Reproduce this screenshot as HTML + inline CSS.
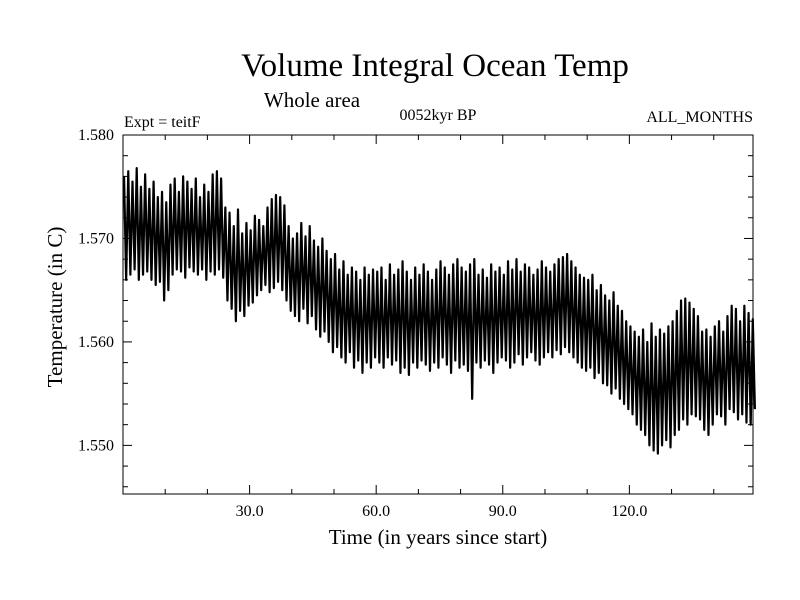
<!DOCTYPE html>
<html><head><meta charset="utf-8"><style>
html,body{margin:0;padding:0;background:#fff;}
svg{display:block;font-family:"Liberation Serif",serif;}
</style></head><body>
<svg id="chart" width="800" height="600" viewBox="0 0 800 600">
<rect width="800" height="600" fill="#fff"/>
<text x="435" y="76" font-size="33" text-anchor="middle">Volume Integral Ocean Temp</text>
<text x="312" y="107" font-size="21" text-anchor="middle">Whole area</text>
<text x="124" y="127" font-size="16">Expt = teitF</text>
<text x="438" y="120" font-size="16" text-anchor="middle">0052kyr BP</text>
<text x="753" y="122" font-size="16" text-anchor="end">ALL_MONTHS</text>
<text x="438" y="544" font-size="21" text-anchor="middle">Time (in years since start)</text>
<text transform="translate(62,307) rotate(-90)" font-size="21" text-anchor="middle">Temperature (in C)</text>
<g id="ticks"></g>
<g id="series"></g>
<rect x="123" y="135" width="630" height="359" fill="none" stroke="#000" stroke-width="1"/>
</svg>
<script>
const yearMax=[1.5760,1.5765,1.5755,1.5768,1.5750,1.5762,1.5748,1.5755,1.5740,1.5745,
1.5735,1.5752,1.5758,1.5745,1.5760,1.5755,1.5748,1.5758,1.5740,1.5752,
1.5745,1.5762,1.5765,1.5758,1.5730,1.5725,1.5712,1.5728,1.5705,1.5715,
1.5708,1.5722,1.5718,1.5712,1.5730,1.5738,1.5742,1.5740,1.5732,1.5712,
1.5700,1.5705,1.5715,1.5702,1.5712,1.5698,1.5692,1.5700,1.5688,1.5680,
1.5685,1.5670,1.5678,1.5665,1.5672,1.5668,1.5660,1.5672,1.5665,1.5670,
1.5668,1.5672,1.5660,1.5675,1.5665,1.5670,1.5678,1.5668,1.5660,1.5672,
1.5665,1.5675,1.5668,1.5660,1.5670,1.5678,1.5672,1.5665,1.5675,1.5680,
1.5672,1.5668,1.5675,1.5680,1.5665,1.5670,1.5662,1.5675,1.5668,1.5672,
1.5665,1.5678,1.5670,1.5680,1.5668,1.5675,1.5672,1.5665,1.5670,1.5678,
1.5672,1.5668,1.5675,1.5680,1.5682,1.5685,1.5678,1.5672,1.5665,1.5662,
1.5660,1.5665,1.5650,1.5655,1.5645,1.5640,1.5648,1.5635,1.5630,1.5620,
1.5615,1.5610,1.5605,1.5612,1.5600,1.5618,1.5605,1.5612,1.5608,1.5615,
1.5620,1.5630,1.5640,1.5642,1.5638,1.5632,1.5625,1.5610,1.5612,1.5605,
1.5615,1.5620,1.5610,1.5625,1.5635,1.5632,1.5620,1.5635,1.5628,1.5622];
const yearMin=[1.5660,1.5665,1.5670,1.5660,1.5665,1.5668,1.5660,1.5655,1.5658,1.5640,
1.5650,1.5665,1.5670,1.5668,1.5662,1.5672,1.5668,1.5665,1.5670,1.5660,
1.5668,1.5665,1.5670,1.5662,1.5640,1.5632,1.5620,1.5630,1.5625,1.5635,
1.5638,1.5645,1.5650,1.5655,1.5648,1.5652,1.5658,1.5650,1.5640,1.5630,
1.5625,1.5620,1.5632,1.5618,1.5625,1.5612,1.5605,1.5610,1.5600,1.5590,
1.5595,1.5585,1.5580,1.5590,1.5575,1.5582,1.5570,1.5580,1.5575,1.5585,
1.5580,1.5575,1.5585,1.5578,1.5582,1.5570,1.5575,1.5568,1.5580,1.5575,
1.5582,1.5578,1.5572,1.5580,1.5575,1.5585,1.5578,1.5570,1.5582,1.5575,
1.5578,1.5572,1.5545,1.5580,1.5575,1.5582,1.5578,1.5570,1.5580,1.5585,
1.5582,1.5575,1.5580,1.5588,1.5578,1.5585,1.5590,1.5582,1.5578,1.5585,
1.5590,1.5585,1.5592,1.5588,1.5595,1.5590,1.5585,1.5580,1.5575,1.5572,
1.5575,1.5565,1.5570,1.5560,1.5558,1.5550,1.5555,1.5545,1.5540,1.5535,
1.5530,1.5520,1.5515,1.5510,1.5500,1.5495,1.5492,1.5500,1.5505,1.5498,
1.5510,1.5515,1.5525,1.5520,1.5530,1.5528,1.5525,1.5515,1.5510,1.5520,
1.5530,1.5528,1.5520,1.5535,1.5532,1.5525,1.5530,1.5522,1.5520,1.5535];
const xTickLabels=["30.0","60.0","90.0","120.0"];
const xTickValues=[30,60,90,120];
const yTickLabels=["1.580","1.570","1.560","1.550"];
const yTickValues=[1.580,1.570,1.560,1.550];

const NS="http://www.w3.org/2000/svg";
const L=123,R=753,T=135,B=494;
const X0=0,X1=149.3,Y0=1.5453,Y1=1.580;
const sx=v=>L+(v-X0)/(X1-X0)*(R-L);
const sy=v=>B-(v-Y0)/(Y1-Y0)*(B-T);
function mk(tag,attrs,parent){const e=document.createElementNS(NS,tag);for(const k in attrs)e.setAttribute(k,attrs[k]);parent.appendChild(e);return e;}
const tg=document.getElementById('ticks');
for(let v=10;v<X1;v+=10){
  const major=v%30===0, len=major?9:5, x=sx(v);
  const t1=mk('line',{x1:x,x2:x,y1:B,y2:B-len,stroke:'#000'},tg);
  
  
  const t2=mk('line',{x1:x,x2:x,y1:T,y2:T+len,stroke:'#000'},tg);
  
  
}
xTickValues.forEach((v,i)=>{
  const t=mk('text',{x:sx(v),y:B+22,'font-size':16,'text-anchor':'middle'},tg);
  t.textContent=xTickLabels[i];
  
  
});
for(let k=0;k<=17;k++){
  const v=1.580-k*0.002; if(v<Y0)break;
  const major=k%5===0, len=major?9:5, y=sy(v);
  const t1=mk('line',{x1:L,x2:L+len,y1:y,y2:y,stroke:'#000'},tg);
  
  
  const t2=mk('line',{x1:R,x2:R-len,y1:y,y2:y,stroke:'#000'},tg);
  
  
}
yTickValues.forEach((v,i)=>{
  const t=mk('text',{x:L-9,y:sy(v)+5,'font-size':16,'text-anchor':'end'},tg);
  t.textContent=yTickLabels[i];
  
  
});
let pts=[];
for(let i=0;i<yearMax.length;i++){
  pts.push(sx(i+0.25).toFixed(2)+','+sy(yearMax[i]).toFixed(2));
  pts.push(sx(i+0.75).toFixed(2)+','+sy(yearMin[i]).toFixed(2));
}
const pl=mk('polyline',{points:pts.join(' '),fill:'none',stroke:'#000','stroke-width':2.2,'stroke-linejoin':'round'},document.getElementById('series'));


</script>
</body></html>
